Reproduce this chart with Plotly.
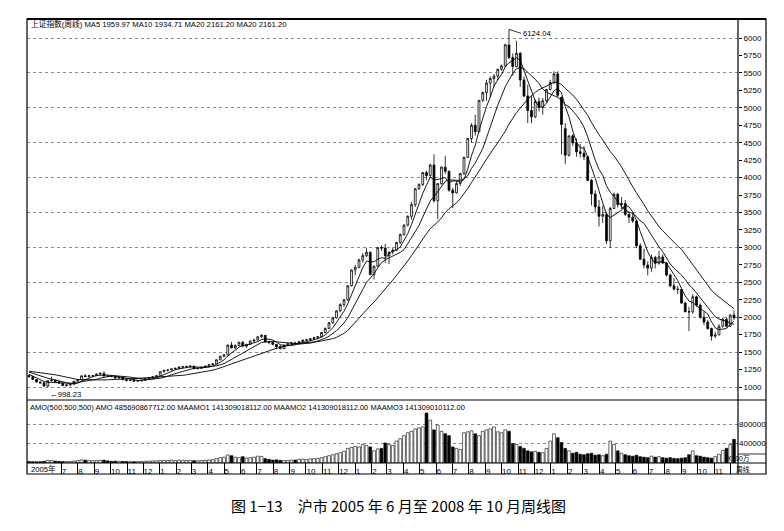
import pandas as pd
import plotly.graph_objects as go

# weekly bars of the Shanghai Composite, one row per week (Monday date)
weeks = pd.date_range("2005-05-02", periods=189, freq="W-MON")

# 17 closes before the first visible week, only used to seed the averages
prior_close = [1242, 1218, 1192, 1190, 1250, 1258, 1278, 1306, 1300, 1285,
               1245, 1210, 1182, 1225, 1215, 1168, 1160]

opens = [1165, 1146, 1108, 1072, 1060, 1012, 1090, 1095, 1076, 1055,
         1021, 1030, 1040, 1083, 1105, 1160, 1150, 1160, 1162, 1185,
         1195, 1158, 1155, 1150, 1128, 1139, 1105, 1096, 1098, 1085,
         1090, 1097, 1122, 1130, 1146, 1161, 1220, 1240, 1245, 1259,
         1268, 1285, 1290, 1295, 1300, 1262, 1265, 1285, 1298, 1320,
         1330, 1390, 1440, 1460, 1600, 1560, 1595, 1640, 1585, 1610,
         1660, 1672, 1720, 1740, 1650, 1640, 1610, 1580, 1550, 1600,
         1620, 1630, 1620, 1650, 1670, 1675, 1690, 1705, 1720, 1780,
         1840, 1920, 1990, 2090, 2180, 2250, 2450, 2675, 2715, 2820,
         2882, 2930, 2612, 2730, 2998, 2990, 2880, 2935, 2960, 3071,
         3183, 3320, 3445, 3612, 3841, 3900, 4073, 4030, 4180, 3670,
         3913, 4150, 4091, 3820, 3781, 3915, 4058, 4290, 4560, 4750,
         4656, 5107, 5218, 5355, 5421, 5454, 5552, 5600, 5900, 5720,
         5590, 5780, 5400, 5170, 4960, 4871, 5091, 5007, 5101, 5262,
         5362, 5485, 5150, 4700, 4320, 4599, 4497, 4370, 4348, 4300,
         3962, 3766, 3580, 3446, 3472, 3094, 3557, 3761, 3613, 3629,
         3474, 3433, 3379, 3023, 2831, 2748, 2703, 2856, 2773, 2863,
         2776, 2605, 2451, 2404, 2397, 2202, 2079, 2075, 2293, 2173,
         2000, 1930, 1838, 1728, 1747, 1870, 1970, 1871, 2030]
highs = [1172, 1150, 1112, 1085, 1063, 1095, 1146, 1110, 1085, 1060,
         1040, 1045, 1085, 1110, 1165, 1185, 1175, 1170, 1195, 1210,
         1223, 1165, 1162, 1156, 1145, 1141, 1110, 1105, 1100, 1095,
         1100, 1125, 1135, 1150, 1165, 1225, 1245, 1250, 1262, 1275,
         1295, 1300, 1305, 1306, 1302, 1275, 1290, 1305, 1325, 1345,
         1395, 1445, 1470, 1610, 1645, 1610, 1648, 1660, 1620, 1665,
         1690, 1730, 1757, 1745, 1665, 1650, 1615, 1600, 1605, 1630,
         1645, 1650, 1660, 1680, 1690, 1700, 1720, 1730, 1790, 1850,
         1930, 2000, 2100, 2200, 2260, 2460, 2685, 2750, 2840, 2920,
         2994, 2940, 2740, 3000, 3030, 3049, 2945, 3000, 3080, 3200,
         3330, 3460, 3650, 3850, 3920, 4080, 4100, 4200, 4335, 3920,
         4160, 4312, 4100, 3850, 3950, 4070, 4300, 4570, 4780, 4900,
         5110, 5230, 5400, 5450, 5480, 5560, 5620, 5915, 6124.04, 5780,
         5960, 5800, 5450, 5330, 5180, 5120, 5150, 5140, 5270, 5400,
         5522, 5522, 5160, 4780, 4600, 4620, 4560, 4480, 4450, 4310,
         3980, 3820, 3680, 3600, 3500, 3580, 3786, 3780, 3720, 3680,
         3500, 3500, 3380, 3060, 2980, 2800, 2900, 2880, 2950, 2900,
         2790, 2620, 2560, 2450, 2410, 2220, 2150, 2330, 2310, 2200,
         2080, 1960, 1850, 1790, 1900, 1990, 2000, 2040, 2100]
lows = [1140, 1100, 1066, 1043, 1005, 998.23, 1080, 1070, 1048, 1015,
        1004, 1010, 1035, 1075, 1100, 1140, 1135, 1145, 1158, 1170,
        1150, 1145, 1140, 1120, 1115, 1100, 1075, 1085, 1074, 1075,
        1080, 1092, 1115, 1125, 1140, 1160, 1210, 1225, 1240, 1250,
        1255, 1270, 1280, 1275, 1258, 1255, 1260, 1280, 1295, 1315,
        1325, 1385, 1430, 1455, 1555, 1540, 1590, 1580, 1560, 1605,
        1640, 1665, 1700, 1640, 1610, 1600, 1541, 1540, 1545, 1590,
        1600, 1610, 1610, 1640, 1660, 1660, 1675, 1690, 1715, 1770,
        1830, 1910, 1980, 2070, 2150, 2230, 2440, 2600, 2700, 2780,
        2860, 2600, 2540, 2720, 2950, 2780, 2760, 2900, 2950, 3050,
        3170, 3300, 3400, 3580, 3820, 3880, 3960, 4000, 3640, 3404,
        3900, 4050, 3800, 3563, 3770, 3880, 4040, 4280, 4500, 4600,
        4650, 5080, 5100, 5150, 5300, 5400, 5530, 5590, 5700, 5460,
        5580, 5300, 5150, 4780, 4780, 4850, 4950, 4900, 5080, 5250,
        5340, 5150, 4330, 4195, 4300, 4450, 4300, 4290, 4250, 3950,
        3600, 3500, 3300, 3350, 3050, 2990, 3550, 3570, 3550, 3450,
        3350, 3350, 2990, 2820, 2700, 2600, 2650, 2700, 2750, 2760,
        2580, 2430, 2380, 2330, 2190, 2070, 1802, 2050, 2150, 1980,
        1890, 1820, 1664.93, 1700, 1740, 1850, 1850, 1860, 1960]
closes = [1146, 1108, 1072, 1060, 1013, 1090, 1095, 1076, 1055, 1021,
          1030, 1040, 1083, 1105, 1160, 1150, 1160, 1162, 1185, 1195,
          1158, 1155, 1150, 1128, 1139, 1105, 1096, 1098, 1085, 1090,
          1097, 1122, 1130, 1146, 1161, 1220, 1240, 1245, 1259, 1268,
          1285, 1290, 1295, 1300, 1262, 1265, 1285, 1298, 1320, 1330,
          1390, 1440, 1460, 1600, 1560, 1595, 1640, 1585, 1610, 1660,
          1672, 1720, 1740, 1650, 1640, 1610, 1580, 1550, 1600, 1620,
          1630, 1620, 1650, 1670, 1675, 1690, 1705, 1720, 1780, 1840,
          1920, 1990, 2090, 2180, 2250, 2450, 2675, 2715, 2820, 2882,
          2930, 2612, 2730, 2998, 2990, 2880, 2930, 2960, 3071, 3183,
          3320, 3445, 3612, 3841, 3900, 4073, 4030, 4180, 3670, 3913,
          4150, 4091, 3820, 3781, 3915, 4058, 4290, 4560, 4750, 4656,
          5107, 5218, 5355, 5421, 5454, 5552, 5600, 5903, 5720, 5590,
          5780, 5400, 5170, 4960, 4871, 5091, 5007, 5101, 5262, 5362,
          5485, 5180, 4761, 4320, 4599, 4497, 4370, 4348, 4300, 3962,
          3766, 3580, 3446, 3472, 3094, 3557, 3761, 3613, 3629, 3474,
          3433, 3379, 3023, 2831, 2748, 2703, 2856, 2773, 2863, 2776,
          2605, 2451, 2404, 2397, 2202, 2079, 2075, 2293, 2173, 2000,
          1930, 1838, 1728, 1747, 1870, 1970, 1871, 2030, 1991]

# weekly turnover, x100万
amount = [30000, 28000, 25000, 27000, 35000, 55000, 50000, 40000, 35000, 30000,
          30000, 32000, 40000, 50000, 65000, 60000, 50000, 48000, 52000, 55000,
          58000, 45000, 35000, 38000, 35000, 33000, 32000, 30000, 28000, 30000,
          32000, 38000, 40000, 42000, 45000, 50000, 55000, 52000, 58000, 50000,
          60000, 55000, 52000, 55000, 48000, 46000, 52000, 55000, 62000, 70000,
          90000, 110000, 120000, 165000, 150000, 120000, 110000, 130000, 100000, 110000,
          120000, 140000, 135000, 90000, 75000, 60000, 65000, 55000, 50000, 55000,
          60000, 62000, 75000, 80000, 70000, 85000, 90000, 95000, 110000, 130000,
          150000, 170000, 190000, 210000, 240000, 300000, 320000, 340000, 330000, 380000,
          360000, 330000, 250000, 290000, 300000, 410000, 380000, 360000, 450000, 500000,
          560000, 620000, 650000, 700000, 720000, 740000, 1025000, 880000, 680000, 780000,
          650000, 600000, 560000, 330000, 300000, 280000, 620000, 640000, 660000, 600000,
          560000, 650000, 680000, 700000, 740000, 640000, 620000, 680000, 650000, 400000,
          380000, 340000, 300000, 250000, 230000, 240000, 220000, 210000, 300000, 450000,
          600000, 520000, 420000, 300000, 250000, 200000, 220000, 180000, 170000, 190000,
          200000, 160000, 170000, 150000, 180000, 450000, 380000, 250000, 200000, 170000,
          150000, 140000, 160000, 130000, 120000, 110000, 140000, 120000, 130000, 110000,
          100000, 110000, 95000, 90000, 100000, 110000, 170000, 250000, 150000, 140000,
          120000, 110000, 100000, 130000, 180000, 260000, 300000, 380000, 485690]

main_ticks = list(range(1000, 6001, 250))
vol_ticks = [400000, 800000]
month_ticks = pd.date_range("2005-07-01", "2008-12-01", freq="MS")
month_text = [str(d.month) for d in month_ticks]

n0 = len(prior_close)
all_close = pd.Series(prior_close + closes)
ma5 = all_close.rolling(5, min_periods=1).mean()[n0:]
ma10 = all_close.rolling(10, min_periods=1).mean()[n0:]
ma20 = all_close.rolling(20, min_periods=1).mean()[n0:]

bar_fill = ["white" if c >= o else "black" for o, c in zip(opens, closes)]


# window pixel -> paper (plot area sits at x 27..738, y 19..474 of the window;
# the page body adds an 8px offset, so the figure itself is 776x523)
def fx(px):
    return (px - 27) / 711


def fy(py):
    return (474 - py) / 455


fig = go.Figure()
fig.add_trace(go.Candlestick(
    x=weeks, open=opens, high=highs, low=lows, close=closes,
    increasing=dict(line=dict(color="black", width=0.8), fillcolor="white"),
    decreasing=dict(line=dict(color="black", width=0.8), fillcolor="black"),
    whiskerwidth=0, xaxis="x", yaxis="y", showlegend=False))
for ma in (ma5, ma10, ma20):
    fig.add_trace(go.Scatter(x=weeks, y=ma, mode="lines",
                             line=dict(color="black", width=0.9),
                             xaxis="x", yaxis="y3", showlegend=False))
fig.add_trace(go.Bar(x=weeks, y=amount, xaxis="x2", yaxis="y2",
                     marker=dict(color=bar_fill, line=dict(color="black", width=0.6)),
                     showlegend=False))

xrange = ["2005-04-28 06:00", "2008-12-15 12:00"]
yrange = [813.7, 6272.2]
tickfont = dict(family="Liberation Sans, Arial, sans-serif", size=8, color="black")
grid = dict(showgrid=True, gridcolor="#8a8a8a", griddash="dot", gridwidth=1)

fig.update_layout(
    width=776, height=523, autosize=False,
    margin=dict(l=19, r=46, t=11, b=57),
    paper_bgcolor="white", plot_bgcolor="white",
    bargap=0.25,
    xaxis=dict(domain=[0, 1], anchor="y", range=xrange, matches="x2",
               showticklabels=False, showgrid=False, zeroline=False,
               rangeslider=dict(visible=False)),
    # amount panel x axis, drawn at the bottom of the month strip
    xaxis2=dict(domain=[0, 1], anchor="free", position=0, range=xrange,
                tickvals=month_ticks, ticktext=month_text, tickangle=0,
                ticks="inside", ticklen=11, tickcolor="black", tickwidth=1,
                ticklabelposition="inside right", ticklabelstandoff=-8,
                tickfont=tickfont, showgrid=False, zeroline=False),
    yaxis=dict(domain=[fy(400), 1], range=yrange, side="right",
               tickvals=main_ticks, ticks="outside", ticklen=3,
               tickcolor="black", tickfont=tickfont, showgrid=False,
               zeroline=False),
    yaxis3=dict(overlaying="y", anchor="x", side="right", range=yrange,
                tick0=1000, dtick=500, showticklabels=False, ticks="",
                zeroline=False, **grid),
    yaxis2=dict(domain=[fy(463), fy(401)], anchor="x2", range=[0, 1271800],
                side="right", tickvals=vol_ticks,
                ticktext=[str(v) for v in vol_ticks], ticks="",
                tickfont=tickfont, zeroline=False, **grid),
)

line = dict(color="black", width=1.2)
fig.update_layout(shapes=[
    dict(type="rect", xref="paper", yref="paper", x0=fx(27), x1=fx(766),
         y0=fy(474), y1=fy(19), line=line),
    dict(type="line", xref="paper", yref="paper", x0=fx(27), x1=fx(766),
         y0=fy(19), y1=fy(19), line=dict(color="black", width=2)),
    dict(type="line", xref="paper", yref="paper", x0=fx(738), x1=fx(738),
         y0=fy(474), y1=fy(19), line=line),
    dict(type="line", xref="paper", yref="paper", x0=fx(27), x1=fx(766),
         y0=fy(400), y1=fy(400), line=line),
    dict(type="line", xref="paper", yref="paper", x0=fx(27), x1=fx(766),
         y0=fy(463), y1=fy(463), line=line),
    dict(type="line", xref="paper", yref="paper", x0=fx(738), x1=fx(766),
         y0=fy(454), y1=fy(454), line=dict(color="black", width=0.8)),
])

hdr_font = dict(family="Liberation Sans, Noto Sans CJK SC, sans-serif", size=7.7, color="black")
small_font = dict(hdr_font, size=6.8)
peak = highs.index(6124.04)
low = lows.index(998.23)
fig.update_layout(annotations=[
    dict(xref="paper", yref="paper", x=fx(29), y=fy(24), xanchor="left",
         yanchor="middle", showarrow=False, font=hdr_font,
         text="上证指数(周线) MA5 1959.97 MA10 1934.71 MA20 2161.20 MA20 2161.20"),
    dict(xref="paper", yref="paper", x=fx(28), y=fy(407), xanchor="left",
         yanchor="middle", showarrow=False,
         font=dict(hdr_font, size=7.5),
         text="AMO(500,500,500) AMO 485690867712.00 MAAMO1 141309018112.00 "
              "MAAMO2 141309018112.00 MAAMO3 141309010112.00"),
    dict(xref="paper", yref="paper", x=fx(752), y=fy(458.5), yanchor="middle",
         showarrow=False, font=small_font, text="X100万"),
    dict(xref="paper", yref="paper", x=fx(752), y=fy(469), yanchor="middle",
         showarrow=False, font=small_font, text="周线"),
    dict(xref="paper", yref="paper", x=fx(29), y=fy(469), xanchor="left",
         yanchor="middle", showarrow=False, font=hdr_font, text="2005年"),
    dict(x=weeks[peak], y=highs[peak], xref="x", yref="y", text="6124.04",
         showarrow=True, arrowhead=0, arrowwidth=0.8, arrowcolor="black",
         ax=12, ay=4, xanchor="left", yanchor="middle", font=hdr_font),
    dict(x=weeks[low], y=lows[low], xref="x", yref="y", text="←998.23",
         showarrow=False, xanchor="left", yanchor="top", yshift=-1,
         font=hdr_font),
    dict(xref="paper", yref="paper", x=fx(398), y=fy(505), yanchor="middle",
         showarrow=False,
         font=dict(family="Noto Sans CJK SC", size=15, color="black"),
         text="图 1−13　沪市 2005 年 6 月至 2008 年 10 月周线图"),
])

fig.write_html("out.html")
